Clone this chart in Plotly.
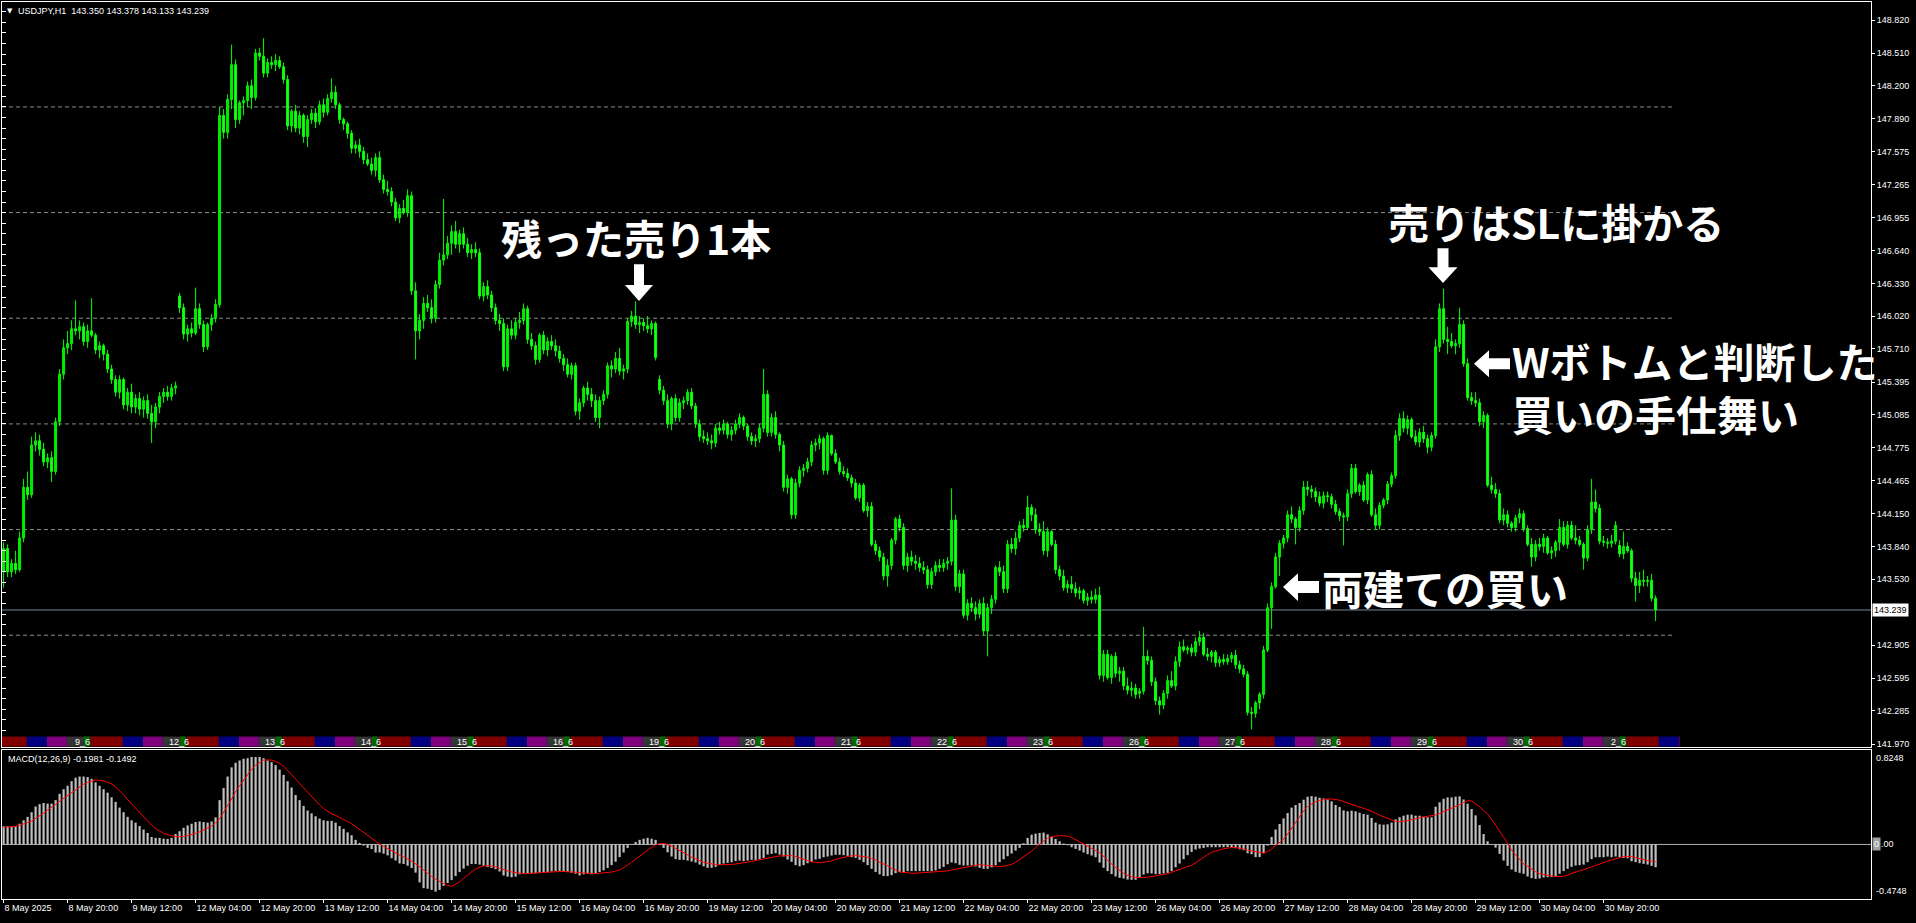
import plotly.graph_objects as go

W, H = 1916, 923

# ---------------- data ----------------
SYMBOL_TEXT = "USDJPY,H1"
LAST_OHLC = [143.350, 143.378, 143.133, 143.239]
MACD_NAME = "MACD(12,26,9)"
MACD_LAST = [-0.1981, -0.1492]

# H1 bars: 8 May 04:00 ... 2 Jun 09:00 (one row per trading day)
OPEN = [
    143.60,143.82,143.60,143.68,143.62,143.92,144.40,144.33,144.80,144.84,144.76,144.64,144.68,144.55,145.02,145.47,145.72,145.76,145.90,145.88,
    145.92,145.78,145.88,145.84,145.70,145.74,145.66,145.52,145.42,145.30,145.42,145.18,145.30,145.16,145.24,145.14,145.22,145.10,145.02,145.16,145.26,145.30,145.26,145.34,
    146.21,146.10,145.85,145.90,145.86,146.09,145.94,145.73,145.94,146.00,146.13,147.92,147.76,148.07,148.40,147.88,148.04,148.06,148.20,148.09,148.51,148.48,148.32,148.42,
    148.40,148.44,148.38,148.26,147.82,147.96,147.80,147.92,147.72,147.88,147.94,147.86,148.02,147.95,148.08,148.14,148.02,147.88,147.84,147.75,147.61,147.64,147.58,147.50,
    147.46,147.40,147.52,147.31,147.22,147.20,147.10,146.95,147.04,147.00,147.16,146.26,145.88,145.98,146.14,146.10,146.00,146.32,146.55,146.60,146.71,146.82,146.70,146.80,
    146.70,146.62,146.65,146.62,146.21,146.30,146.22,146.10,145.98,145.95,145.54,145.90,145.84,145.96,145.98,146.09,145.80,145.74,145.61,145.84,145.70,145.78,145.74,145.69,
    145.62,145.56,145.47,145.55,145.12,145.20,145.34,145.28,145.22,145.06,145.22,145.28,145.55,145.52,145.62,145.50,145.52,145.97,146.02,145.94,145.96,145.93,145.90,145.95,
    145.42,145.32,145.22,145.00,145.24,145.06,145.20,145.22,145.30,145.17,145.00,144.88,144.86,144.84,144.82,144.96,144.94,145.00,144.90,144.94,145.00,145.06,144.98,144.88,
    144.84,144.86,144.96,145.28,144.92,145.06,144.90,144.80,144.40,144.48,144.14,144.44,144.56,144.58,144.64,144.80,144.82,144.86,144.56,144.89,144.72,144.64,144.55,144.53,
    144.49,144.44,144.30,144.42,144.18,144.22,143.86,143.80,143.74,143.56,143.66,143.90,144.10,144.02,143.66,143.74,143.70,143.68,143.64,143.62,143.48,143.60,143.66,143.64,
    143.68,143.70,144.09,143.46,143.58,143.19,143.30,143.26,143.20,143.30,143.04,143.26,143.34,143.64,143.60,143.44,143.86,143.82,143.92,144.04,144.02,144.21,144.14,144.00,
    143.98,143.80,143.98,143.86,143.62,143.56,143.45,143.48,143.44,143.40,143.42,143.33,143.36,143.34,143.38,142.62,142.82,142.60,142.80,142.64,142.66,142.52,142.48,142.50,
    142.45,142.47,142.80,142.76,142.56,142.38,142.34,142.45,142.57,142.52,142.75,142.89,142.86,142.88,142.84,142.94,142.98,142.82,142.80,142.84,142.74,142.77,142.75,142.78,
    142.81,142.72,142.68,142.63,142.27,142.26,142.36,142.44,142.86,143.26,143.46,143.74,143.87,143.92,144.14,144.10,144.02,144.18,144.40,144.38,144.36,144.31,144.25,144.32,
    144.31,144.24,144.17,144.13,144.12,144.34,144.58,144.36,144.42,144.28,144.52,144.14,144.04,144.23,144.28,144.43,144.51,144.89,145.05,144.96,145.04,144.88,144.83,144.92,
    144.86,144.78,144.89,145.73,146.09,145.80,145.78,145.74,145.76,145.94,145.57,145.25,145.22,145.20,145.02,145.08,144.42,144.38,144.34,144.09,144.14,144.06,144.02,144.11,
    144.15,144.01,143.86,143.74,143.86,143.84,143.92,143.78,143.80,143.88,144.02,143.86,144.04,143.92,143.90,143.86,143.73,144.00,144.26,144.20,143.89,143.88,143.87,143.89,
    143.85,143.77,143.84,143.80,143.54,143.47,143.52,143.51,143.52,143.350,
]
HIGH = [
    143.88,143.86,143.72,143.80,143.98,144.48,144.55,144.88,144.92,144.90,144.82,144.72,144.74,145.06,145.52,145.80,145.88,145.98,146.17,145.98,
    145.96,145.94,146.19,145.86,145.78,145.76,145.70,145.56,145.46,145.46,145.44,145.34,145.38,145.28,145.30,145.26,145.28,145.18,145.20,145.30,145.34,145.36,145.38,145.40,
    146.24,146.14,145.94,145.96,146.29,146.14,145.98,145.96,146.04,146.18,148.00,147.98,148.12,148.59,148.45,148.06,148.10,148.24,148.26,148.55,148.56,148.65,148.46,148.48,
    148.50,148.48,148.42,148.30,147.98,148.02,147.96,147.94,147.92,147.98,147.99,148.06,148.08,148.12,148.27,148.20,148.04,147.90,147.86,147.78,147.68,147.70,147.62,147.56,
    147.52,147.56,147.58,147.36,147.30,147.24,147.14,147.08,147.12,147.22,147.20,146.34,146.04,146.20,146.22,146.18,146.36,146.62,147.13,146.78,146.88,146.92,146.84,146.86,
    146.76,146.70,146.72,146.66,146.34,146.36,146.26,146.14,146.04,146.00,145.94,145.98,146.00,146.06,146.14,146.12,145.86,145.78,145.86,145.88,145.82,145.84,145.80,145.74,
    145.66,145.62,145.58,145.58,145.24,145.36,145.40,145.34,145.28,145.26,145.32,145.58,145.60,145.68,145.72,145.56,146.00,146.07,146.16,146.02,146.00,146.02,145.98,145.97,
    145.46,145.36,145.28,145.26,145.28,145.24,145.26,145.33,145.34,145.20,145.04,144.94,144.92,144.90,145.00,145.02,145.04,145.02,144.98,145.04,145.10,145.08,145.00,144.92,
    144.90,145.00,145.52,145.32,145.10,145.12,144.92,144.84,144.52,144.50,144.48,144.60,144.62,144.68,144.84,144.86,144.90,144.88,144.92,144.90,144.76,144.68,144.60,144.58,
    144.52,144.48,144.44,144.44,144.26,144.26,143.90,143.84,143.78,143.72,143.92,144.12,144.14,144.06,143.78,143.80,143.76,143.74,143.70,143.66,143.64,143.70,143.72,143.72,
    143.74,144.39,144.14,143.62,143.62,143.34,143.36,143.32,143.34,143.36,143.30,143.38,143.66,143.70,143.66,143.90,143.92,143.98,144.08,144.10,144.32,144.24,144.20,144.06,
    144.08,144.02,144.00,143.90,143.66,143.62,143.52,143.56,143.50,143.46,143.44,143.40,143.42,143.44,143.46,142.86,142.86,142.82,142.84,142.70,142.70,142.60,142.56,142.54,
    142.50,143.08,142.86,142.80,142.60,142.42,142.48,142.62,142.66,142.80,142.94,142.96,142.90,142.92,142.98,143.04,143.02,142.88,142.86,142.86,142.80,142.82,142.82,142.84,
    142.86,142.76,142.72,142.66,142.32,142.38,142.46,142.90,143.30,143.50,143.78,143.90,143.95,144.18,144.22,144.12,144.22,144.46,144.46,144.42,144.40,144.36,144.36,144.36,
    144.34,144.28,144.20,144.16,144.38,144.62,144.62,144.44,144.46,144.54,144.56,144.20,144.26,144.30,144.46,144.54,144.94,145.10,145.12,145.08,145.06,144.94,144.96,144.98,
    144.90,144.92,145.80,146.14,146.28,145.92,145.86,145.80,146.10,145.98,145.62,145.30,145.30,145.24,145.12,145.10,144.50,144.44,144.38,144.20,144.18,144.08,144.14,144.20,
    144.18,144.04,143.92,143.90,143.92,143.96,143.94,143.84,143.90,144.10,144.08,144.08,144.08,144.04,143.94,143.88,144.04,144.48,144.38,144.24,143.94,143.92,143.95,144.08,
    143.90,143.98,143.88,143.82,143.60,143.60,143.62,143.56,143.58,143.378,
]
LOW = [
    143.45,143.55,143.55,143.58,143.60,143.88,144.28,144.30,144.74,144.70,144.60,144.58,144.45,144.52,144.98,145.42,145.66,145.70,145.84,145.80,
    145.74,145.72,145.82,145.66,145.62,145.60,145.48,145.38,145.26,145.24,145.14,145.12,145.10,145.10,145.08,145.06,145.05,144.82,144.96,145.10,145.20,145.22,145.22,145.28,
    146.05,145.80,145.78,145.82,145.84,145.90,145.68,145.70,145.88,145.96,146.10,147.70,147.70,147.98,147.80,147.84,147.92,148.00,147.98,148.06,148.44,148.28,148.28,148.36,
    148.34,148.36,148.22,147.78,147.76,147.76,147.74,147.66,147.62,147.84,147.80,147.83,147.90,147.92,148.04,147.98,147.84,147.78,147.70,147.56,147.56,147.52,147.46,147.44,
    147.36,147.34,147.28,147.18,147.16,147.06,146.92,146.90,146.98,146.96,146.22,145.61,145.80,145.90,146.06,145.95,145.96,146.28,146.50,146.56,146.60,146.66,146.62,146.66,
    146.58,146.56,146.58,146.18,146.16,146.18,146.06,145.94,145.88,145.50,145.50,145.80,145.80,145.90,145.94,145.76,145.70,145.56,145.58,145.66,145.64,145.70,145.64,145.58,
    145.50,145.44,145.42,145.08,145.04,145.16,145.22,145.16,145.02,144.96,145.18,145.24,145.44,145.48,145.46,145.42,145.48,145.92,145.90,145.86,145.88,145.86,145.84,145.60,
    145.28,145.18,144.96,144.94,145.02,145.02,145.14,145.18,145.14,144.96,144.84,144.82,144.80,144.76,144.78,144.90,144.90,144.86,144.84,144.90,144.96,144.94,144.84,144.80,
    144.78,144.82,144.92,144.88,144.88,144.86,144.74,144.36,144.34,144.10,144.10,144.40,144.50,144.54,144.60,144.74,144.76,144.52,144.52,144.70,144.62,144.52,144.50,144.46,
    144.40,144.28,144.26,144.16,144.12,143.84,143.76,143.70,143.52,143.46,143.62,143.86,143.98,143.62,143.60,143.66,143.62,143.60,143.58,143.44,143.44,143.56,143.60,143.60,
    143.62,143.66,143.42,143.40,143.16,143.14,143.22,143.14,143.16,143.00,142.80,143.20,143.30,143.56,143.40,143.40,143.78,143.76,143.88,143.98,144.00,144.08,143.96,143.94,
    143.76,143.74,143.84,143.58,143.52,143.42,143.40,143.40,143.36,143.34,143.30,143.28,143.30,143.30,142.58,142.56,142.58,142.54,142.60,142.56,142.48,142.44,142.42,142.40,
    142.40,142.44,142.72,142.52,142.34,142.25,142.30,142.40,142.50,142.48,142.70,142.84,142.82,142.80,142.80,142.90,142.80,142.76,142.74,142.70,142.70,142.72,142.72,142.74,
    142.68,142.64,142.60,142.24,142.11,142.22,142.30,142.40,142.84,143.06,143.44,143.56,143.82,143.88,144.06,143.86,143.98,144.14,144.32,144.30,144.26,144.22,144.20,144.26,
    144.20,144.14,144.08,143.85,144.08,144.30,144.34,144.32,144.26,144.24,144.12,144.00,144.00,144.20,144.24,144.40,144.48,144.84,144.92,144.90,144.86,144.80,144.78,144.82,
    144.72,144.74,144.86,145.68,145.76,145.66,145.72,145.66,145.72,145.54,145.22,145.18,145.16,144.98,144.96,144.40,144.34,144.30,144.06,144.04,144.02,143.98,143.98,144.06,
    143.98,143.84,143.65,143.70,143.80,143.78,143.76,143.72,143.74,143.80,143.84,143.82,143.90,143.86,143.84,143.62,143.70,143.96,144.16,143.86,143.84,143.82,143.83,143.86,
    143.74,143.72,143.78,143.50,143.32,143.40,143.46,143.46,143.32,143.133,
]
CLOSE = [
    143.82,143.60,143.68,143.62,143.92,144.40,144.33,144.80,144.84,144.76,144.64,144.68,144.55,145.02,145.47,145.72,145.76,145.90,145.88,145.92,
    145.78,145.88,145.84,145.70,145.74,145.66,145.52,145.42,145.30,145.42,145.18,145.30,145.16,145.24,145.14,145.22,145.10,145.02,145.16,145.26,145.30,145.26,145.34,145.36,
    146.10,145.85,145.90,145.86,146.09,145.94,145.73,145.94,146.00,146.13,147.92,147.76,148.07,148.40,147.88,148.04,148.06,148.20,148.09,148.51,148.48,148.32,148.42,148.40,
    148.44,148.38,148.26,147.82,147.96,147.80,147.92,147.72,147.88,147.94,147.86,148.02,147.95,148.08,148.14,148.02,147.88,147.84,147.75,147.61,147.64,147.58,147.50,147.46,
    147.40,147.52,147.31,147.22,147.20,147.10,146.95,147.04,147.00,147.16,146.26,145.88,145.98,146.14,146.10,146.00,146.32,146.55,146.60,146.71,146.82,146.70,146.80,146.70,
    146.62,146.65,146.62,146.21,146.30,146.22,146.10,145.98,145.95,145.54,145.90,145.84,145.96,145.98,146.09,145.80,145.74,145.61,145.84,145.70,145.78,145.74,145.69,145.62,
    145.56,145.47,145.55,145.12,145.20,145.34,145.28,145.22,145.06,145.22,145.28,145.55,145.52,145.62,145.50,145.52,145.97,146.02,145.94,145.96,145.93,145.90,145.95,145.63,
    145.32,145.22,145.00,145.24,145.06,145.20,145.22,145.30,145.17,145.00,144.88,144.86,144.84,144.82,144.96,144.94,145.00,144.90,144.94,145.00,145.06,144.98,144.88,144.84,
    144.86,144.96,145.28,144.92,145.06,144.90,144.80,144.40,144.48,144.14,144.44,144.56,144.58,144.64,144.80,144.82,144.86,144.56,144.89,144.72,144.64,144.55,144.53,144.49,
    144.44,144.30,144.42,144.18,144.22,143.86,143.80,143.74,143.56,143.66,143.90,144.10,144.02,143.66,143.74,143.70,143.68,143.64,143.62,143.48,143.60,143.66,143.64,143.68,
    143.70,144.09,143.46,143.58,143.19,143.30,143.26,143.20,143.30,143.04,143.26,143.34,143.64,143.60,143.44,143.86,143.82,143.92,144.04,144.02,144.21,144.14,144.00,143.98,
    143.80,143.98,143.86,143.62,143.56,143.45,143.48,143.44,143.40,143.42,143.33,143.36,143.34,143.38,142.62,142.82,142.60,142.80,142.64,142.66,142.52,142.48,142.50,142.44,
    142.47,142.80,142.76,142.56,142.38,142.34,142.45,142.57,142.52,142.75,142.89,142.86,142.88,142.84,142.94,142.98,142.82,142.80,142.84,142.74,142.77,142.75,142.78,142.81,
    142.72,142.68,142.63,142.27,142.26,142.36,142.44,142.86,143.26,143.46,143.74,143.87,143.92,144.14,144.10,144.02,144.18,144.40,144.38,144.36,144.31,144.25,144.32,144.31,
    144.24,144.17,144.13,144.12,144.34,144.58,144.36,144.42,144.28,144.52,144.14,144.04,144.23,144.28,144.43,144.51,144.89,145.05,144.96,145.04,144.88,144.83,144.92,144.86,
    144.78,144.89,145.73,146.09,145.80,145.78,145.74,145.76,145.94,145.57,145.25,145.22,145.20,145.02,145.08,144.42,144.38,144.34,144.09,144.14,144.06,144.02,144.11,144.15,
    144.01,143.86,143.74,143.86,143.84,143.92,143.78,143.80,143.88,144.02,143.86,144.04,143.92,143.90,143.86,143.73,144.00,144.26,144.20,143.89,143.88,143.87,143.89,144.04,
    143.77,143.84,143.80,143.54,143.47,143.52,143.51,143.52,143.35,143.239,
]

MACD_MAIN = [
    0.158,0.158,0.155,0.158,0.18,0.21,0.24,0.28,0.33,0.35,0.36,0.355,0.355,0.385,0.44,0.48,0.51,0.55,0.58,0.59,
    0.59,0.585,0.57,0.54,0.51,0.48,0.45,0.41,0.37,0.32,0.28,0.24,0.21,0.19,0.16,0.13,0.10,0.065,0.057,0.057,0.05,0.048,0.057,0.09,
    0.115,0.145,0.165,0.18,0.195,0.2,0.195,0.19,0.2,0.235,0.385,0.49,0.59,0.67,0.71,0.73,0.745,0.75,0.76,0.76,0.76,0.75,0.73,0.715,
    0.69,0.65,0.605,0.55,0.495,0.43,0.385,0.335,0.295,0.27,0.245,0.225,0.21,0.205,0.205,0.19,0.16,0.135,0.105,0.08,0.04,0.013,-0.01,-0.03,
    -0.04,-0.07,-0.07,-0.08,-0.095,-0.12,-0.14,-0.165,-0.17,-0.185,-0.205,-0.245,-0.33,-0.38,-0.385,-0.395,-0.41,-0.395,-0.36,-0.335,-0.31,-0.275,-0.24,-0.21,
    -0.185,-0.17,-0.17,-0.175,-0.185,-0.195,-0.205,-0.215,-0.235,-0.27,-0.28,-0.285,-0.28,-0.26,-0.25,-0.25,-0.25,-0.25,-0.245,-0.245,-0.24,-0.235,-0.23,-0.23,
    -0.235,-0.24,-0.245,-0.255,-0.27,-0.26,-0.255,-0.26,-0.25,-0.24,-0.225,-0.205,-0.18,-0.15,-0.11,-0.07,-0.03,-0.005,0.022,0.04,0.05,0.057,0.05,0.04,
    0.005,-0.03,-0.068,-0.105,-0.128,-0.134,-0.134,-0.14,-0.148,-0.157,-0.175,-0.19,-0.203,-0.203,-0.195,-0.177,-0.166,-0.16,-0.155,-0.145,-0.14,-0.145,-0.14,-0.134,
    -0.134,-0.128,-0.117,-0.088,-0.082,-0.076,-0.088,-0.105,-0.131,-0.151,-0.18,-0.19,-0.18,-0.163,-0.151,-0.131,-0.125,-0.111,-0.105,-0.096,-0.09,-0.09,-0.093,-0.099,
    -0.111,-0.117,-0.134,-0.154,-0.18,-0.212,-0.24,-0.26,-0.275,-0.275,-0.267,-0.25,-0.24,-0.24,-0.232,-0.232,-0.232,-0.232,-0.232,-0.232,-0.232,-0.226,-0.212,-0.195,
    -0.172,-0.157,-0.163,-0.177,-0.183,-0.183,-0.183,-0.192,-0.203,-0.212,-0.212,-0.2,-0.18,-0.154,-0.128,-0.102,-0.079,-0.053,-0.03,0.01,0.057,0.085,0.094,0.1,
    0.103,0.088,0.065,0.048,0.028,0.008,-0.007,-0.024,-0.039,-0.053,-0.07,-0.085,-0.096,-0.111,-0.157,-0.203,-0.232,-0.258,-0.278,-0.29,-0.296,-0.305,-0.307,-0.307,
    -0.287,-0.261,-0.25,-0.252,-0.258,-0.258,-0.252,-0.247,-0.232,-0.198,-0.166,-0.128,-0.093,-0.065,-0.044,-0.036,-0.03,-0.024,-0.024,-0.024,-0.024,-0.024,-0.024,-0.027,
    -0.033,-0.042,-0.05,-0.076,-0.085,-0.11,-0.11,-0.076,-0.01,0.065,0.13,0.178,0.227,0.273,0.32,0.343,0.36,0.389,0.415,0.42,0.415,0.406,0.4,0.391,
    0.374,0.343,0.325,0.296,0.288,0.293,0.288,0.276,0.265,0.259,0.23,0.19,0.175,0.172,0.175,0.19,0.218,0.236,0.25,0.259,0.259,0.25,0.25,0.241,
    0.236,0.236,0.328,0.366,0.397,0.409,0.409,0.415,0.418,0.391,0.354,0.308,0.253,0.169,0.091,0.028,-0.002,-0.027,-0.082,-0.14,-0.186,-0.218,-0.238,-0.247,
    -0.255,-0.278,-0.293,-0.299,-0.296,-0.287,-0.284,-0.284,-0.278,-0.255,-0.232,-0.212,-0.195,-0.183,-0.18,-0.175,-0.154,-0.128,-0.111,-0.111,-0.111,-0.105,-0.111,-0.105,
    -0.111,-0.117,-0.12,-0.146,-0.154,-0.163,-0.169,-0.175,-0.186,-0.1981,
]
MACD_SIGNAL = [
    0.149,0.152,0.154,0.158,0.167,0.176,0.19,0.203,0.225,0.248,0.272,0.3,0.325,0.352,0.377,0.398,0.421,0.45,0.478,0.5,
    0.524,0.54,0.553,0.56,0.557,0.552,0.54,0.525,0.5,0.468,0.432,0.39,0.352,0.313,0.275,0.236,0.199,0.168,0.137,0.115,0.097,0.084,0.073,0.068,
    0.068,0.069,0.077,0.085,0.097,0.109,0.124,0.14,0.16,0.19,0.22,0.28,0.334,0.395,0.46,0.51,0.565,0.61,0.655,0.688,0.71,0.733,0.735,0.733,
    0.722,0.705,0.68,0.645,0.61,0.57,0.53,0.492,0.453,0.414,0.375,0.343,0.312,0.285,0.265,0.253,0.237,0.221,0.2,0.181,0.155,0.13,0.1,0.075,
    0.05,0.025,0.003,-0.017,-0.037,-0.056,-0.075,-0.093,-0.108,-0.125,-0.145,-0.168,-0.197,-0.226,-0.252,-0.278,-0.3,-0.323,-0.34,-0.357,-0.362,-0.345,-0.325,-0.295,
    -0.264,-0.238,-0.213,-0.196,-0.186,-0.184,-0.188,-0.194,-0.206,-0.22,-0.23,-0.239,-0.246,-0.252,-0.255,-0.253,-0.25,-0.248,-0.245,-0.243,-0.24,-0.238,-0.236,-0.235,
    -0.235,-0.236,-0.238,-0.24,-0.244,-0.249,-0.252,-0.255,-0.254,-0.25,-0.248,-0.244,-0.24,-0.232,-0.222,-0.202,-0.18,-0.155,-0.128,-0.102,-0.07,-0.045,-0.025,-0.005,
    0.006,0.008,0.0,-0.015,-0.035,-0.055,-0.075,-0.095,-0.11,-0.125,-0.14,-0.155,-0.162,-0.17,-0.175,-0.177,-0.177,-0.176,-0.174,-0.17,-0.166,-0.16,-0.154,-0.147,
    -0.141,-0.136,-0.13,-0.122,-0.113,-0.106,-0.099,-0.097,-0.097,-0.097,-0.105,-0.116,-0.128,-0.143,-0.151,-0.155,-0.159,-0.155,-0.15,-0.143,-0.128,-0.12,-0.112,-0.109,
    -0.099,-0.097,-0.102,-0.105,-0.11,-0.122,-0.133,-0.155,-0.168,-0.185,-0.208,-0.22,-0.24,-0.245,-0.25,-0.25,-0.25,-0.248,-0.245,-0.243,-0.242,-0.24,-0.238,-0.234,
    -0.23,-0.222,-0.215,-0.205,-0.198,-0.19,-0.184,-0.177,-0.175,-0.18,-0.184,-0.19,-0.19,-0.19,-0.19,-0.182,-0.173,-0.155,-0.132,-0.11,-0.085,-0.06,-0.025,0.003,
    0.03,0.055,0.068,0.073,0.076,0.075,0.072,0.06,0.04,0.025,0.005,-0.015,-0.035,-0.053,-0.07,-0.105,-0.135,-0.17,-0.2,-0.227,-0.25,-0.268,-0.281,-0.287,
    -0.29,-0.289,-0.285,-0.28,-0.275,-0.268,-0.262,-0.255,-0.242,-0.23,-0.218,-0.21,-0.195,-0.18,-0.16,-0.135,-0.11,-0.088,-0.068,-0.055,-0.047,-0.038,-0.03,-0.027,
    -0.026,-0.03,-0.04,-0.05,-0.055,-0.062,-0.07,-0.075,-0.062,-0.04,-0.01,0.02,0.045,0.09,0.14,0.195,0.25,0.29,0.33,0.352,0.372,0.383,0.39,0.395,
    0.395,0.393,0.385,0.373,0.36,0.345,0.335,0.325,0.313,0.303,0.29,0.272,0.255,0.24,0.225,0.21,0.2,0.197,0.2,0.206,0.215,0.225,0.236,0.24,
    0.244,0.25,0.257,0.27,0.285,0.298,0.31,0.325,0.345,0.365,0.38,0.378,0.355,0.327,0.295,0.265,0.22,0.17,0.115,0.06,0.01,-0.05,-0.09,-0.135,
    -0.17,-0.19,-0.215,-0.237,-0.253,-0.262,-0.27,-0.275,-0.278,-0.278,-0.278,-0.265,-0.252,-0.24,-0.228,-0.22,-0.205,-0.195,-0.183,-0.169,-0.153,-0.145,-0.135,-0.125,
    -0.115,-0.105,-0.105,-0.105,-0.115,-0.125,-0.13,-0.14,-0.145,-0.1492,
]

X_TICK_LABELS = ["8 May 2025", "8 May 20:00", "9 May 12:00", "12 May 04:00", "12 May 20:00",
                 "13 May 12:00", "14 May 04:00", "14 May 20:00", "15 May 12:00", "16 May 04:00",
                 "16 May 20:00", "19 May 12:00", "20 May 04:00", "20 May 20:00", "21 May 12:00",
                 "22 May 04:00", "22 May 20:00", "23 May 12:00", "26 May 04:00", "26 May 20:00",
                 "27 May 12:00", "28 May 04:00", "28 May 20:00", "29 May 12:00", "30 May 04:00",
                 "30 May 20:00"]
BARS_PER_LABEL = 16
PRICE_TICKS = [148.820, 148.510, 148.200, 147.890, 147.575, 147.265, 146.955, 146.640,
               146.330, 146.020, 145.710, 145.395, 145.085, 144.775, 144.465, 144.150,
               143.840, 143.530, 142.905, 142.595, 142.285, 141.970]
GRID_LEVELS = [148, 147, 146, 145, 144, 143, 142]
GRID_END_BAR = 417.4
DAY_LABELS = ["9_6", "12_6", "13_6", "14_6", "15_6", "16_6", "19_6", "20_6", "21_6",
              "22_6", "23_6", "26_6", "27_6", "28_6", "29_6", "30_6", "2_6"]
DAY_START_BAR = [20, 44, 68, 92, 116, 140, 164, 188, 212, 236, 260, 284, 308, 332, 356, 380, 404]
FIRST_DAY_START = -4          # 8 May 00:00 (chart starts at 04:00)
BAND_END_BAR = 419            # session band drawn up to 2 Jun 15:00
# session blocks: (start hour offset, end hour offset, colour)
SESSIONS = [(-4, 2, "#353535"), (2, 10, "#800000"), (10, 15, "#000080"), (15, 20, "#800080")]

n = len(CLOSE)
assert len(OPEN) == n and len(HIGH) == n and len(LOW) == n, (len(OPEN), len(HIGH), len(LOW), n)
assert len(MACD_MAIN) == n and len(MACD_SIGNAL) == n, (len(MACD_MAIN), len(MACD_SIGNAL), n)
idx = list(range(n))
HIGH = [max(h, o, c) for h, o, c in zip(HIGH, OPEN, CLOSE)]
LOW = [min(l, o, c) for l, o, c in zip(LOW, OPEN, CLOSE)]

# ---------------- geometry ----------------
X_RANGE = [-0.4, 466.85]
Y_RANGE = [141.9462, 148.9933]
M_RANGE = [-0.4748, 0.8248]
XDOM = [2 / W, 1871 / W]
YDOM_MAIN = [1 - 749 / H, 1 - 2 / H]
YDOM_MACD = [1 - 902 / H, 1 - 752 / H]
LIME = "#00FF00"
LBL = "Liberation Sans, Arial, sans-serif"
JP = "Noto Sans CJK JP, sans-serif"

fig = go.Figure()

# wicks
wx, wy = [], []
for i, h, l in zip(idx, HIGH, LOW):
    wx += [i, i, None]
    wy += [l, h, None]
fig.add_trace(go.Scatter(x=wx, y=wy, mode="lines", line=dict(color=LIME, width=1),
                         hoverinfo="skip", xaxis="x", yaxis="y"))
# bodies
base = [min(o, c) for o, c in zip(OPEN, CLOSE)]
hgt = [max(abs(c - o), 0.003) for o, c in zip(OPEN, CLOSE)]
fill = ["#000000" if c >= o else "#FFFFFF" for o, c in zip(OPEN, CLOSE)]
fig.add_trace(go.Bar(x=idx, y=hgt, base=base, width=0.5,
                     marker=dict(color=fill, line=dict(color=LIME, width=1)),
                     hoverinfo="skip", xaxis="x", yaxis="y"))

# MACD
fig.add_trace(go.Bar(x=idx, y=MACD_MAIN, width=0.55, marker=dict(color="#C0C0C0", line=dict(width=0)),
                     hoverinfo="skip", xaxis="x2", yaxis="y2"))
fig.add_trace(go.Scatter(x=idx, y=MACD_SIGNAL, mode="lines", line=dict(color="#FF0000", width=1),
                         hoverinfo="skip", xaxis="x2", yaxis="y2"))

shapes = []
for lv in GRID_LEVELS:
    shapes.append(dict(type="line", xref="x", yref="y", x0=X_RANGE[0], x1=GRID_END_BAR, y0=lv, y1=lv,
                       line=dict(color="#8a8a8a", width=1, dash="4px,3px"), layer="below"))
shapes.append(dict(type="line", xref="x", yref="y", x0=X_RANGE[0], x1=X_RANGE[1],
                   y0=LAST_OHLC[3], y1=LAST_OHLC[3], line=dict(color="#778899", width=1), layer="below"))
shapes.append(dict(type="line", xref="x2", yref="y2", x0=X_RANGE[0], x1=X_RANGE[1], y0=0, y1=0,
                   line=dict(color="#B0B0B0", width=1), layer="below"))

BAND_H = 10 / 747
for s in [FIRST_DAY_START] + DAY_START_BAR:
    for a, b, col in SESSIONS:
        x0 = max(s + a - 0.2, X_RANGE[0])
        x1 = min(s + b - 0.2, BAND_END_BAR)
        if x1 <= x0:
            continue
        shapes.append(dict(type="rect", xref="x", yref="y domain", x0=x0, x1=x1, y0=0, y1=BAND_H,
                           fillcolor=col, line=dict(width=0), layer="above"))
for s in DAY_START_BAR:
    shapes.append(dict(type="rect", xref="x", yref="y domain", x0=s + 0.1, x1=s + 1.5, y0=0, y1=BAND_H,
                       fillcolor="#006a00", line=dict(width=0), layer="above"))


# thick white callout arrows (drawn in page pixels)
def pxpath(points):
    return "M " + " L ".join(f"{x / W:.6f},{1 - y / H:.6f}" for x, y in points) + " Z"


def left_arrow(tip_x, cy, head_w, head_h, shaft_len, shaft_t):
    bx = tip_x + head_w
    return pxpath([(tip_x, cy), (bx, cy - head_h / 2), (bx, cy - shaft_t / 2),
                   (bx + shaft_len, cy - shaft_t / 2), (bx + shaft_len, cy + shaft_t / 2),
                   (bx, cy + shaft_t / 2), (bx, cy + head_h / 2)])


def down_arrow(cx, tip_y, head_w, head_h, shaft_len, shaft_t):
    by = tip_y - head_h
    return pxpath([(cx, tip_y), (cx - head_w / 2, by), (cx - shaft_t / 2, by),
                   (cx - shaft_t / 2, by - shaft_len), (cx + shaft_t / 2, by - shaft_len),
                   (cx + shaft_t / 2, by), (cx + head_w / 2, by)])


for p in [down_arrow(639, 302, 28, 16, 21, 10),
          down_arrow(1443, 284, 29, 16, 19, 11),
          left_arrow(1474, 365, 15, 27, 21, 11),
          left_arrow(1283, 589, 15, 28, 21, 12)]:
    shapes.append(dict(type="path", xref="paper", yref="paper", path=p,
                       fillcolor="white", line=dict(width=0), layer="above"))

ann = []
for s, t in zip(DAY_START_BAR, DAY_LABELS):
    ann.append(dict(xref="x", yref="y domain", x=s - 0.2, y=BAND_H / 2, text=t, showarrow=False,
                    xanchor="center", yanchor="middle", font=dict(color="white", size=9, family=LBL)))


def P(x, y, text, size, family=LBL, color="white", xanchor="left", yanchor="middle", **kw):
    d = dict(xref="paper", yref="paper", x=x / W, y=1 - y / H, text=text, showarrow=False,
             xanchor=xanchor, yanchor=yanchor, font=dict(color=color, size=size, family=family),
             borderpad=0)
    d.update(kw)
    return d


ann.append(P(9.5, 11, "▼", 7, family="DejaVu Sans", xanchor="center"))
ann.append(P(17, 11, SYMBOL_TEXT + "\u00a0\u00a0" + " ".join(f"{v:.3f}" for v in LAST_OHLC), 9))
ann.append(P(7, 761, f"{MACD_NAME} {MACD_LAST[0]:.4f} {MACD_LAST[1]:.4f}", 9))

# current price box
ann.append(dict(xref="paper", yref="y", x=1872 / W, y=LAST_OHLC[3], text=f"{LAST_OHLC[3]:.3f}",
                showarrow=False, xanchor="left", yanchor="middle", bgcolor="white", borderpad=1,
                font=dict(color="black", size=9, family=LBL)))
# MACD scale labels
ann.append(dict(xref="paper", yref="y2", x=1874 / W, y=M_RANGE[1], text=f"{M_RANGE[1]:.4f}",
                showarrow=False, xanchor="left", yanchor="top", yshift=-1,
                font=dict(color="white", size=9, family=LBL)))
ann.append(dict(xref="paper", yref="y2", x=1874 / W, y=M_RANGE[0], text=f"{M_RANGE[0]:.4f}",
                showarrow=False, xanchor="left", yanchor="bottom", yshift=1,
                font=dict(color="white", size=9, family=LBL)))
ann.append(dict(xref="paper", yref="y2", x=1872 / W, y=0, text="0", showarrow=False, xanchor="left",
                yanchor="middle", bgcolor="#a0a0a0", borderpad=1,
                font=dict(color="white", size=9, family=LBL)))
ann.append(dict(xref="paper", yref="y2", x=1879 / W, y=0, text=".00", showarrow=False, xanchor="left",
                yanchor="middle", font=dict(color="white", size=9, family=LBL)))

# Japanese commentary
JS = 41
ann.append(P(500, 238, "<b>残った売り1本</b>", JS, family=JP))
ann.append(P(1387, 222, "<b>売りはSLに掛かる</b>", JS, family=JP))
ann.append(P(1511, 388, "<b>Wボトムと判断した</b><br><b>買いの手仕舞い</b>", JS, family=JP, align="left"))
ann.append(P(1321, 589, "<b>両建ての買い</b>", JS, family=JP))

axis_common = dict(showgrid=False, zeroline=False, showline=True, linecolor="white", linewidth=1,
                   mirror=True, fixedrange=True)
fig.update_layout(
    width=W, height=H, margin=dict(l=0, r=0, t=0, b=0),
    paper_bgcolor="black", plot_bgcolor="black", showlegend=False, hovermode=False,
    barmode="overlay",
    xaxis=dict(domain=XDOM, range=X_RANGE, anchor="y", showticklabels=False, ticks="", **axis_common),
    yaxis=dict(domain=YDOM_MAIN, range=Y_RANGE, anchor="x", side="right",
               tickvals=PRICE_TICKS, ticktext=[f"{v:.3f}" for v in PRICE_TICKS],
               ticks="outside", ticklen=3, tickcolor="white",
               tickfont=dict(color="white", size=9, family=LBL), **axis_common),
    yaxis3=dict(overlaying="y", anchor="x", side="left", range=Y_RANGE, tick0=0, dtick=0.1,
                ticks="inside", ticklen=4, tickcolor="white", showticklabels=False,
                showgrid=False, zeroline=False, showline=False, fixedrange=True),
    xaxis2=dict(domain=XDOM, range=X_RANGE, anchor="y2",
                tickvals=[k * BARS_PER_LABEL for k in range(len(X_TICK_LABELS))],
                ticktext=X_TICK_LABELS, ticks="outside", ticklen=3, tickcolor="white",
                ticklabelposition="outside right",
                tickfont=dict(color="white", size=9, family=LBL), **axis_common),
    yaxis2=dict(domain=YDOM_MACD, range=M_RANGE, anchor="x2", showticklabels=False, ticks="",
                **axis_common),
    shapes=shapes, annotations=ann,
)
# dummy trace to activate the left tick axis
fig.add_trace(go.Scatter(x=[None], y=[None], xaxis="x", yaxis="y3", hoverinfo="skip"))

fig.write_html("out.html", include_plotlyjs=True, full_html=True,
               config={"displayModeBar": False, "staticPlot": True},
               post_script="document.body.style.margin='0';document.body.style.overflow='hidden';"
                           "document.body.style.background='#000';")
